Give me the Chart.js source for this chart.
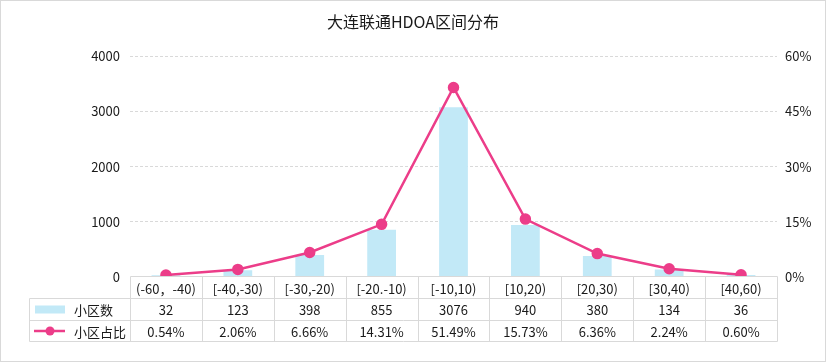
<!DOCTYPE html>
<html>
<head>
<meta charset="utf-8">
<script src="https://cdn.jsdelivr.net/npm/chart.js@4/dist/chart.umd.min.js"></script>
<style>
  html, body { margin: 0; padding: 0; background: #ffffff; }
  #wrap { position: relative; width: 826px; height: 362px; }
  canvas { display: block; }
</style>
</head>
<body>
<div id="wrap"><canvas id="c" width="826" height="362"></canvas></div>
<script>
const titleText = '大连联通HDOA区间分布';
const categories = ['(-60，-40)', '[-40,-30)', '[-30,-20)', '[-20.-10)', '[-10,10)', '[10,20)', '[20,30)', '[30,40)', '[40,60)'];
const countName = '小区数';
const shareName = '小区占比';
const counts = [32, 123, 398, 855, 3076, 940, 380, 134, 36];
const shares = [0.54, 2.06, 6.66, 14.31, 51.49, 15.73, 6.36, 2.24, 0.60];
const countTicks = [0, 1000, 2000, 3000, 4000];
const shareTicks = [0, 15, 30, 45, 60];

const FONT = '"Noto Sans CJK SC", "Microsoft YaHei", sans-serif';
const TEXT = '#1a1a1a';
const GRID = '#d9d9d9';
const BAR = '#c2e9f7';
const LINE = '#ec3d89';

const tablePlugin = {
  id: 'dataTable',
  afterDraw(chart) {
    const { ctx, chartArea, scales } = chart;
    const x = scales.x;
    const n = categories.length;
    const colW = (chartArea.right - chartArea.left) / n;
    const top = Math.round(chartArea.bottom) - 0.5;
    const r1 = top + 22, r2 = r1 + 22, r3 = r2 + 21;
    const legL = 29.5;
    const L = Math.round(chartArea.left) + 0.5;
    const R = Math.round(chartArea.right) + 0.5;
    ctx.save();
    ctx.strokeStyle = GRID;
    ctx.lineWidth = 1;
    ctx.setLineDash([]);
    ctx.beginPath();
    ctx.moveTo(L, top); ctx.lineTo(R, top);
    [r1, r2, r3].forEach(y => { ctx.moveTo(legL, y); ctx.lineTo(R, y); });
    for (let i = 0; i <= n; i++) {
      const px = Math.round(x.getPixelForValue(i) - colW / 2) + 0.5;
      ctx.moveTo(px, top); ctx.lineTo(px, r3);
    }
    ctx.moveTo(legL, r1); ctx.lineTo(legL, r3);
    ctx.stroke();

    // outer border
    ctx.strokeRect(0.5, 0.5, chart.width - 1, chart.height - 1);

    ctx.fillStyle = TEXT;
    ctx.font = '13px ' + FONT;
    ctx.textAlign = 'center';
    ctx.textBaseline = 'middle';
    const y2 = (r1 + r2) / 2 + 1, y3 = (r2 + r3) / 2 + 1;
    for (let i = 0; i < n; i++) {
      const cx = x.getPixelForValue(i);
      ctx.fillText(String(counts[i]), cx, y2);
      ctx.fillText(shares[i].toFixed(2) + '%', cx, y3);
    }
    // legend cells
    ctx.textAlign = 'left';
    ctx.fillText(countName, 74, y2);
    ctx.fillText(shareName, 74, y3);
    ctx.fillStyle = BAR;
    ctx.fillRect(35, y2 - 5, 30, 8);
    ctx.strokeStyle = LINE;
    ctx.lineWidth = 2.5;
    ctx.beginPath();
    ctx.moveTo(34, y3 - 1); ctx.lineTo(65, y3 - 1);
    ctx.stroke();
    ctx.fillStyle = LINE;
    ctx.beginPath();
    ctx.arc(50, y3 - 1, 4.5, 0, Math.PI * 2);
    ctx.fill();
    ctx.restore();
  }
};

new Chart(document.getElementById('c'), {
  data: {
    labels: categories,
    datasets: [
      {
        type: 'line', label: shareName, data: shares, yAxisID: 'y1',
        borderColor: LINE, backgroundColor: LINE, borderWidth: 2.5,
        pointRadius: 4.5, pointBackgroundColor: LINE, pointBorderColor: LINE,
        tension: 0, cubicInterpolationMode: 'default', order: 0
      },
      {
        type: 'bar', label: countName, data: counts, yAxisID: 'y',
        backgroundColor: BAR, barPercentage: 0.4, categoryPercentage: 1, order: 1
      }
    ]
  },
  options: {
    responsive: false,
    devicePixelRatio: 1,
    animation: false,
    layout: { padding: 0 },
    plugins: {
      legend: { display: false },
      tooltip: { enabled: false },
      title: {
        display: true, text: titleText, color: TEXT,
        font: { family: FONT, size: 16, weight: 'normal', lineHeight: 1.2 },
        padding: { top: 12, bottom: 25 }
      }
    },
    scales: {
      x: {
        offset: true,
        grid: { display: false, drawTicks: false },
        border: { display: false },
        ticks: { color: TEXT, font: { family: FONT, size: 13 }, padding: 4, maxRotation: 0, autoSkip: false },
        afterFit(s) { s.height = 85; }
      },
      y: {
        position: 'left', min: 0, max: 4000,
        afterBuildTicks(s) { s.ticks = countTicks.map(v => ({ value: v })); },
        grid: { color: c => c.tick && c.tick.value === 0 ? 'rgba(0,0,0,0)' : GRID, drawTicks: false, lineWidth: 1 },
        border: { display: false, dash: [3, 2] },
        ticks: { color: TEXT, font: { family: FONT, size: 13 }, padding: 10, callback: v => String(v) },
        afterFit(s) { s.width = 130; }
      },
      y1: {
        position: 'right', min: 0, max: 60,
        afterBuildTicks(s) { s.ticks = shareTicks.map(v => ({ value: v })); },
        grid: { display: false, drawTicks: false },
        border: { display: false },
        ticks: { color: TEXT, font: { family: FONT, size: 13 }, padding: 8, callback: v => v + '%' },
        afterFit(s) { s.width = 49; }
      }
    }
  },
  plugins: [tablePlugin]
});
</script>
</body>
</html>
